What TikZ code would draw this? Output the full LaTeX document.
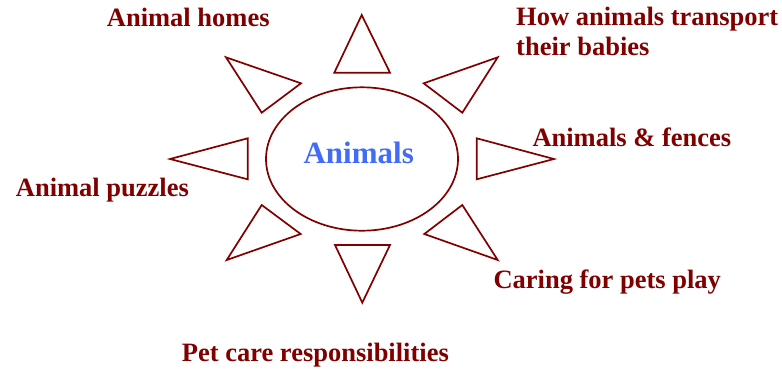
\documentclass[tikz,border=0pt]{standalone}
\usepackage{fontspec}
\setmainfont{Liberation Serif}
\usetikzlibrary{shapes.geometric}
\definecolor{ray}{RGB}{128,0,0}
\definecolor{hubblue}{RGB}{66,108,245}
\tikzset{
  rayshape/.style={draw=ray, line width=1.7bp, line join=miter},
  topic/.style={text=ray, inner sep=0pt, anchor=base west, align=left,
    font={\fontsize{26.5bp}{30bp}\selectfont\bfseries}},
}
\begin{document}
\begin{tikzpicture}[x=1bp, y=-1bp]
\useasboundingbox (0,0) rectangle (782,369);
% hub
\node[ellipse, draw=ray, line width=1.7bp, minimum width=192bp, minimum height=143.4bp, inner sep=0pt] (hub) at (362,159) {};
\node[text=hubblue, inner sep=0pt, anchor=base, font={\fontsize{31bp}{34bp}\selectfont\bfseries}] (hubtext) at (358.7,163.3) {Animals};
% rays
\draw[rayshape] (361.7,15) -- (334.3,72.7) -- (390,72.7) -- cycle;
\draw[rayshape] (226,57.3) -- (301,83.3) -- (261.7,112.7) -- cycle;
\draw[rayshape] (497.7,57.3) -- (423.7,83.3) -- (462.3,112.7) -- cycle;
\draw[rayshape] (170,159) -- (247.7,138.3) -- (247.7,179.3) -- cycle;
\draw[rayshape] (554,159) -- (476.7,138.3) -- (476.7,179.3) -- cycle;
\draw[rayshape] (261.7,205) -- (300.7,234) -- (226.7,260) -- cycle;
\draw[rayshape] (462.3,205) -- (424.3,234) -- (497.7,260) -- cycle;
\draw[rayshape] (335,245) -- (390,245) -- (362.3,302.7) -- cycle;
% topics
\node[topic] (homes) at (106.7,26) {Animal homes};
\node[topic] (transport) at (516,55) {How animals transport\\their babies};
\node[topic] (fences) at (532.3,146) {Animals \& fences};
\node[topic] (puzzles) at (15.7,196) {Animal puzzles};
\node[topic] (caring) at (493.3,288.7) {Caring for pets play};
\node[topic] (petcare) at (181.7,361) {Pet care responsibilities};
\end{tikzpicture}
\end{document}
